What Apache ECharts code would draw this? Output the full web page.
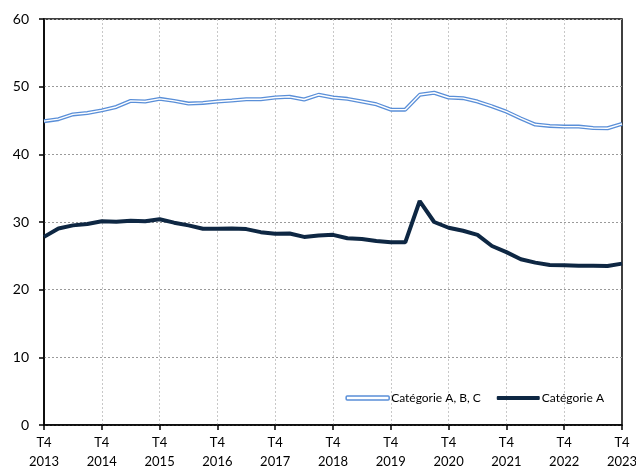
<!DOCTYPE html>
<html>
<head>
<meta charset="utf-8">
<script src="https://cdn.jsdelivr.net/npm/echarts@6/dist/echarts.min.js"></script>
<style>html,body{margin:0;padding:0;background:#fff}#c{width:636px;height:466px}</style>
</head>
<body>
<div id="c"></div>
<script>
const years = [2013,2014,2015,2016,2017,2018,2019,2020,2021,2022,2023];
const quarters = [];
quarters.push('T4 2013');
for (let y = 2014; y <= 2023; y++) { for (let q = 1; q <= 4; q++) quarters.push('T' + q + ' ' + y); }

const seriesABCName = 'Catégorie A, B, C';
const seriesAName = 'Catégorie A';

const valuesABC = [44.9,45.2,45.9,46.1,46.5,47.0,47.9,47.8,48.2,47.9,47.5,47.6,47.8,47.95,48.15,48.15,48.4,48.5,48.1,48.8,
  48.4,48.2,47.8,47.4,46.6,46.6,48.8,49.1,48.4,48.3,47.8,47.1,46.3,45.3,44.4,44.2,44.1,44.1,43.9,43.85,44.5];
const valuesA = [27.8,29.05,29.5,29.7,30.1,30.05,30.2,30.1,30.4,29.9,29.5,29.0,29.0,29.05,28.95,28.5,28.25,28.3,27.8,28.0,
  28.1,27.6,27.5,27.2,27.0,27.0,33.1,30.0,29.15,28.7,28.1,26.45,25.55,24.5,24.0,23.65,23.6,23.55,23.55,23.5,23.85];

const blue = '#5A8FD8';
const navy = '#0E2743';
const font = 'Lato, "Liberation Sans", sans-serif';
const isYear = (i) => i % 4 === 0;

const chart = echarts.init(document.getElementById('c'), null, {renderer: 'canvas'});
chart.setOption({
  animation: false,
  backgroundColor: '#fff',
  grid: {left: 44, right: 14, top: 19, bottom: 41, outerBoundsMode: 'none', containLabel: false,
         show: true, borderColor: '#000', borderWidth: 1.5, backgroundColor: 'transparent'},
  legend: {
    right: 27, top: 387,
    itemWidth: 43, itemHeight: 4, itemGap: 16,
    textStyle: {fontFamily: font, fontSize: 12, color: '#000', padding: [0, 0, 0, -3]},
    data: [
      {name: seriesABCName, icon: 'roundRect', itemStyle: {color: '#fff', borderColor: blue, borderWidth: 1.5}},
      {name: seriesAName, icon: 'roundRect', itemStyle: {color: navy, borderWidth: 0}}
    ]
  },
  xAxis: {
    type: 'category', data: quarters, boundaryGap: false,
    axisLine: {show: true, lineStyle: {color: '#000', width: 1.5}},
    axisTick: {show: true, interval: (i) => isYear(i), length: 5, lineStyle: {color: '#000', width: 1.5}},
    axisLabel: {interval: (i) => isYear(i), formatter: (v) => v.replace(' ', '\n'), fontFamily: font, fontSize: 13, color: '#000', lineHeight: 19, margin: 8},
    splitLine: {show: true, interval: (i) => isYear(i) && i !== 0 && i !== 40, lineStyle: {color: '#C8C8C8', type: [2, 2], width: 1}}
  },
  yAxis: {
    type: 'value', min: 0, max: 60, interval: 10,
    axisLine: {show: true, lineStyle: {color: '#000', width: 1.5}},
    axisTick: {show: true, length: 5, lineStyle: {color: '#000', width: 1.5}},
    axisLabel: {fontFamily: font, fontSize: 14, color: '#000', margin: 15},
    splitLine: {show: true, lineStyle: {color: '#9A9A9A', type: [2, 2], width: 1}}
  },
  series: [
    {name: seriesABCName, type: 'line', data: valuesABC, showSymbol: false, symbol: 'none',
     lineStyle: {color: blue, width: 4}, itemStyle: {color: blue}, z: 3},
    {name: 'abc-inner', type: 'line', data: valuesABC, showSymbol: false, symbol: 'none',
     lineStyle: {color: '#fff', width: 1.4}, z: 4, silent: true},
    {name: seriesAName, type: 'line', data: valuesA, showSymbol: false, symbol: 'none',
     lineStyle: {color: navy, width: 4}, itemStyle: {color: navy}, z: 5}
  ]
});
</script>
</body>
</html>
